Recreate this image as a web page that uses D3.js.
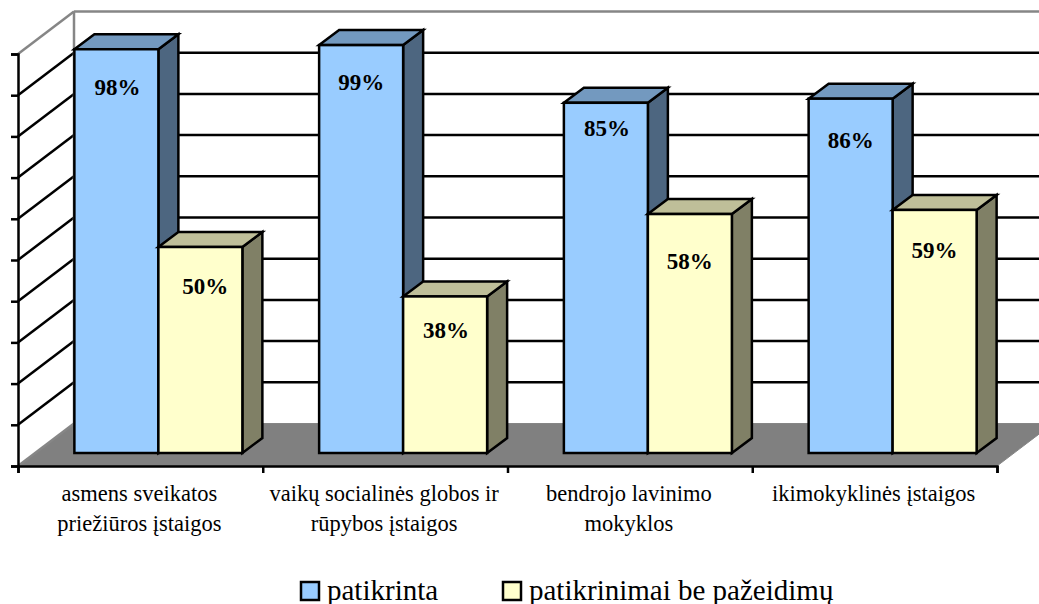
<!DOCTYPE html>
<html>
<head>
<meta charset="utf-8">
<script src="https://cdn.jsdelivr.net/npm/d3@7"></script>
<style>
  html, body { margin: 0; padding: 0; background: #fff; overflow: hidden; }
  svg { display: block; font-family: "Liberation Serif", serif; }
</style>
</head>
<body>
<svg id="chart" width="1039" height="604"></svg>
<script>
// data
var categories = [
  ["asmens sveikatos", "priežiūros įstaigos"],
  ["vaikų socialinės globos ir", "rūpybos įstaigos"],
  ["bendrojo lavinimo", "mokyklos"],
  ["ikimokyklinės įstaigos"]
];
var seriesNames = ["patikrinta", "patikrinimai be pažeidimų"];
var checked = [98, 99, 85, 86];
var noViolations = [50, 38, 58, 59];
var yTicks = [0, 10, 20, 30, 40, 50, 60, 70, 80, 90, 100];

// how far each value label sits under its bar top, and its sideways nudge
var labelDrop = [[46, 47], [45, 42], [33, 55], [49, 48]];
var labelNudge = [[1, 5], [0, 1], [1, 0], [0, 0]];

var svg = d3.select("#chart");
var width = 1039, height = 604;
var plot = {left: 18, right: 997, top: 54, bottom: 466};

// the wall behind the bars is moved by this much
var wall = {dx: 56, dy: -42.5};
// bars stand part way into the floor
var barShift = {dx: 18, dy: -13};
var depth = {dx: 20, dy: -15};

var colors = {
  front: ["#99ccff", "#ffffcc"],
  top: ["#7399bf", "#bfbf99"],
  side: ["#4d6680", "#808066"]
};

var labelIndex = categories.map(function(d, i) { return i; });

// scales
var x_scale = d3.scaleBand()
    .domain(labelIndex)
    .range([plot.left, plot.right])
    .paddingInner(0.3136)
    .paddingOuter(0.1568);

var x_series = d3.scaleBand()
    .domain([0, 1])
    .range([0, x_scale.bandwidth()]);

var y_scale = d3.scaleLinear()
    .domain([0, 100])
    .range([plot.bottom, plot.top]);

// floor
svg.append("polygon")
   .attr("points", [
     [plot.left, plot.bottom],
     [plot.right, plot.bottom],
     [plot.right + wall.dx, plot.bottom + wall.dy],
     [plot.left + wall.dx, plot.bottom + wall.dy]
   ].join(" "))
   .attr("fill", "#808080")
   .attr("stroke", "#868686")
   .attr("stroke-width", 1);

// grid on left and back wall, first and last line are grey
function gridColor(d) {
  return (d == 100 || d == 0) ? "#868686" : "#000";
}

svg.selectAll(".wallline")
   .data(yTicks)
   .enter()
   .append("line")
   .attr("class", "wallline")
   .attr("x1", plot.left)
   .attr("y1", function(d) { return y_scale(d); })
   .attr("x2", plot.left + wall.dx)
   .attr("y2", function(d) { return y_scale(d) + wall.dy; })
   .attr("stroke", gridColor)
   .attr("stroke-width", 2.5);

svg.selectAll(".backline")
   .data(yTicks.filter(function(d) { return d != 0; }))
   .enter()
   .append("line")
   .attr("class", "backline")
   .attr("x1", plot.left + wall.dx)
   .attr("y1", function(d) { return y_scale(d) + wall.dy; })
   .attr("x2", width)
   .attr("y2", function(d) { return y_scale(d) + wall.dy; })
   .attr("stroke", gridColor)
   .attr("stroke-width", 2.5);

// grey corner of the two walls
svg.append("line")
   .attr("x1", plot.left + wall.dx)
   .attr("y1", y_scale(100) + wall.dy)
   .attr("x2", plot.left + wall.dx)
   .attr("y2", y_scale(0) + wall.dy)
   .attr("stroke", "#868686")
   .attr("stroke-width", 2.5);

// axes
var y_axis = d3.axisLeft(y_scale)
    .tickValues(yTicks)
    .tickSize(7)
    .tickFormat("");

svg.append("g")
   .attr("class", "axis")
   .attr("transform", "translate(" + plot.left + ",0)")
   .call(y_axis);

var boundaries = d3.scaleLinear()
    .domain([0, categories.length])
    .range([plot.left, plot.right]);

var x_axis = d3.axisBottom(boundaries)
    .tickValues(d3.range(categories.length + 1))
    .tickSize(7)
    .tickFormat("");

svg.append("g")
   .attr("class", "axis")
   .attr("transform", "translate(0," + plot.bottom + ")")
   .call(x_axis);

svg.selectAll(".axis path, .axis line")
   .attr("stroke", "#000")
   .attr("stroke-width", 2.5);

// 3d bar out of three faces
function drawBar(g, x, w, value, s) {
  var x0 = x + barShift.dx;
  var x1 = x0 + w;
  var yTop = y_scale(value) + barShift.dy;
  var yBase = y_scale(0) + barShift.dy;

  var sideFace = [[x1, yTop], [x1 + depth.dx, yTop + depth.dy], [x1 + depth.dx, yBase + depth.dy], [x1, yBase]];
  var topFace = [[x0, yTop], [x0 + depth.dx, yTop + depth.dy], [x1 + depth.dx, yTop + depth.dy], [x1, yTop]];

  g.append("polygon").attr("points", sideFace.join(" ")).attr("fill", colors.side[s]);
  g.append("polygon").attr("points", topFace.join(" ")).attr("fill", colors.top[s]);
  g.append("rect")
   .attr("x", x0)
   .attr("y", yTop)
   .attr("width", w)
   .attr("height", yBase - yTop)
   .attr("fill", colors.front[s]);

  g.selectAll("polygon, rect")
   .attr("stroke", "#000")
   .attr("stroke-width", 2.5)
   .attr("stroke-linejoin", "miter");
}

var barsGroup = svg.append("g");

labelIndex.forEach(function(i) {
  [[checked, 0], [noViolations, 1]].forEach(function(pair) {
    var g = barsGroup.append("g");
    drawBar(g, x_scale(i) + x_series(pair[1]), x_series.bandwidth(), pair[0][i], pair[1]);
  });
});

// value labels
labelIndex.forEach(function(i) {
  [[checked, 0], [noViolations, 1]].forEach(function(pair) {
    var s = pair[1];
    svg.append("text")
       .attr("x", x_scale(i) + x_series(s) + x_series.bandwidth() / 2 + barShift.dx + labelNudge[i][s])
       .attr("y", y_scale(pair[0][i]) + barShift.dy + labelDrop[i][s])
       .attr("text-anchor", "middle")
       .attr("font-size", 23)
       .attr("font-weight", "bold")
       .attr("fill", "#000")
       .text(pair[0][i] + "%");
  });
});

// category labels
categories.forEach(function(lines, i) {
  lines.forEach(function(line, j) {
    svg.append("text")
       .attr("x", boundaries(i + 0.5) - 1)
       .attr("y", 501 + j * 30)
       .attr("text-anchor", "middle")
       .attr("font-size", 22.5)
       .attr("fill", "#000")
       .text(line);
  });
});

// legend
var legendX = [301, 503];
seriesNames.forEach(function(name, i) {
  svg.append("rect")
     .attr("x", legendX[i])
     .attr("y", 582)
     .attr("width", 18)
     .attr("height", 18)
     .attr("fill", colors.front[i])
     .attr("stroke", "#000")
     .attr("stroke-width", 2.5);
  svg.append("text")
     .attr("x", legendX[i] + 26)
     .attr("y", 600)
     .attr("font-size", 29)
     .attr("fill", "#000")
     .text(name);
});
</script>
</body>
</html>
